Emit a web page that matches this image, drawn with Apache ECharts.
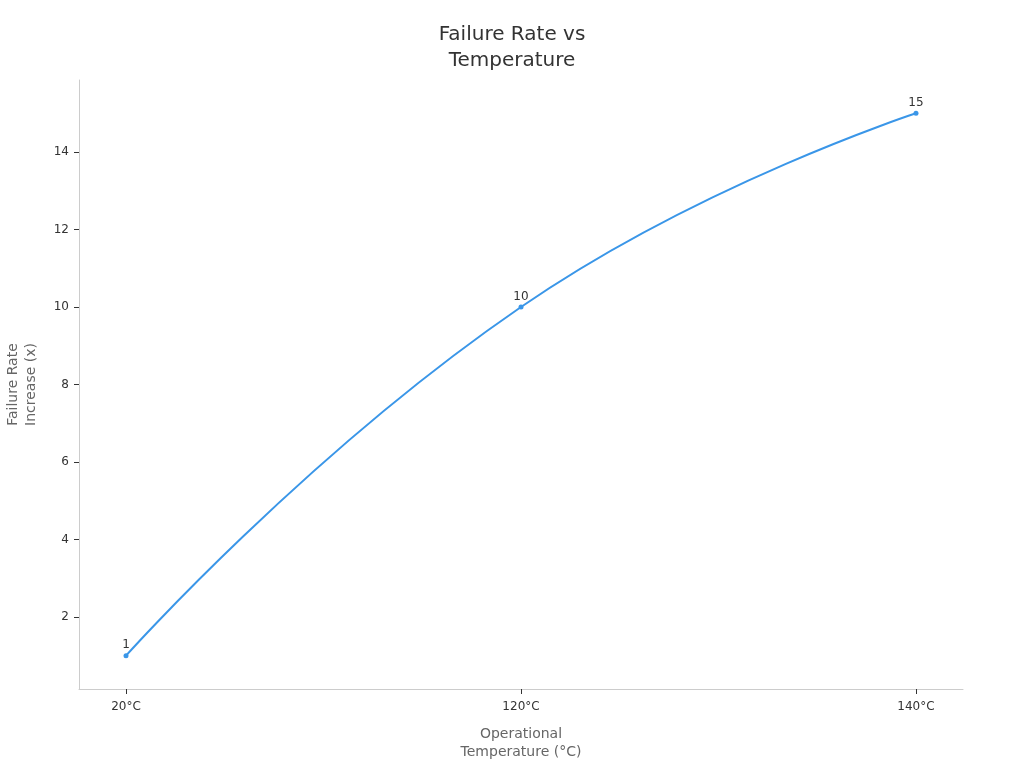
<!DOCTYPE html>
<html>
<head>
<meta charset="utf-8">
<script src="https://cdn.jsdelivr.net/npm/echarts@6/dist/echarts.min.js"></script>
<style>html,body{margin:0;padding:0;background:#fff}#c{width:1024px;height:768px}</style>
</head>
<body>
<div id="c"></div>
<script>
var categories = ['20°C', '120°C', '140°C'];
var failureRate = [1, 10, 15];
var yTicks = [2, 4, 6, 8, 10, 12, 14];

var chart = echarts.init(document.getElementById('c'));
var font = 'DejaVu Sans';
chart.setOption({
  backgroundColor: '#fff',
  animation: false,
  title: {
    text: 'Failure Rate vs\nTemperature',
    left: 'center', top: 17,
    textStyle: { fontFamily: font, fontSize: 20, fontWeight: 'normal', color: '#333', lineHeight: 26 }
  },
  grid: { left: 79, right: 61, top: 80, bottom: 79, containLabel: false, outerBoundsMode: 'none' },
  xAxis: {
    type: 'value', min: -0.119, max: 2.119,
    name: 'Operational\nTemperature (°C)', nameLocation: 'middle', nameGap: 36,
    nameTextStyle: { fontFamily: font, fontSize: 14, color: '#666', lineHeight: 18 },
    splitLine: { show: false },
    axisLine: { show: true, onZero: false, lineStyle: { color: '#ccc' } },
    axisTick: { show: true, customValues: [0, 1, 2], lineStyle: { color: '#333' } },
    axisLabel: {
      customValues: [0, 1, 2], fontFamily: font, fontSize: 12, color: '#333', margin: 12,
      formatter: function (v) { return categories[Math.round(v)]; }
    }
  },
  yAxis: {
    type: 'value', min: 0.14, max: 15.86,
    name: 'Failure Rate\nIncrease (x)', nameLocation: 'middle', nameGap: 39, nameRotate: 90,
    nameTextStyle: { fontFamily: font, fontSize: 14, color: '#666', lineHeight: 18 },
    splitLine: { show: false },
    axisLine: { show: true, onZero: false, lineStyle: { color: '#ccc' } },
    axisTick: { show: true, customValues: yTicks, lineStyle: { color: '#333' } },
    axisLabel: { customValues: yTicks, fontFamily: font, fontSize: 12, color: '#333', margin: 10 }
  },
  series: [{
    type: 'line',
    smooth: true,
    data: failureRate.map(function (v, i) { return [i, v]; }),
    symbol: 'circle', symbolSize: 5,
    itemStyle: { color: '#3a96e8' },
    lineStyle: { color: '#3a96e8', width: 2 },
    label: {
      show: true, position: 'top', distance: 2, fontFamily: font, fontSize: 12, color: '#333',
      formatter: function (p) { return p.value[1]; }
    }
  }]
});
</script>
</body>
</html>
